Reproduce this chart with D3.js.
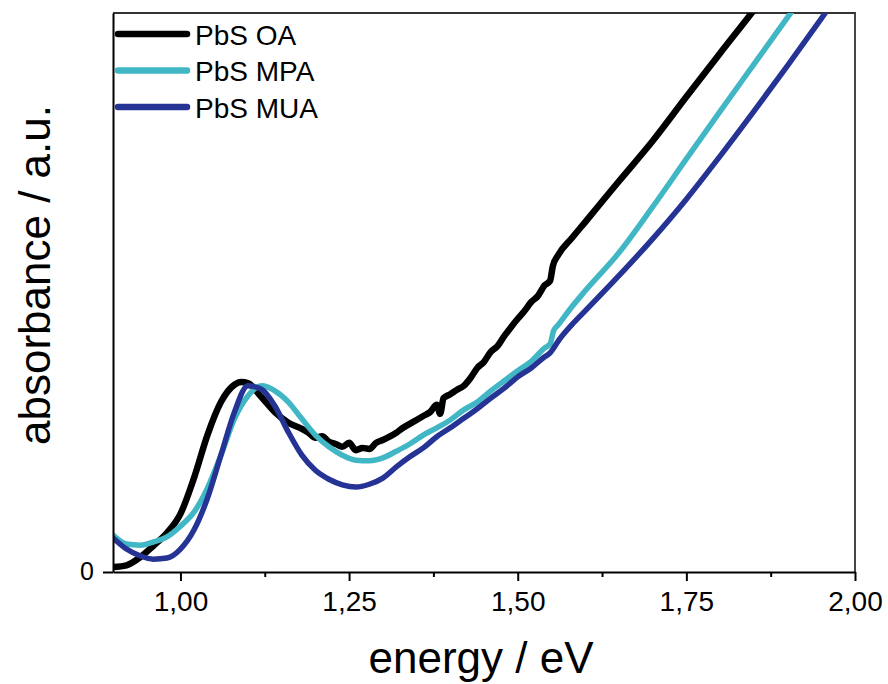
<!DOCTYPE html>
<html lang="en">

<head>
    <meta charset="utf-8">
    <script src="https://d3js.org/d3.v7.min.js"></script>
    <style>
        body { margin: 0; background: #fff; }
        text { font-family: "Liberation Sans", Arial, sans-serif; fill: #000; }
    </style>
</head>

<body>
    <script>
        // series names and colours
        const seriesNames = ["PbS OA", "PbS MPA", "PbS MUA"];
        const seriesColors = ["#000000", "#41b6c4", "#253494"];

        // PbS OA (noisy trace)
        const energyOA = [0.90, 0.92, 0.94, 0.96, 0.98, 1.00, 1.02, 1.04, 1.06, 1.08, 1.09, 1.10, 1.12, 1.14, 1.16,
            1.18, 1.19, 1.20, 1.21, 1.22, 1.23, 1.24, 1.25, 1.26, 1.27, 1.28, 1.29, 1.30, 1.31, 1.32, 1.33, 1.34,
            1.35, 1.36, 1.37, 1.38, 1.385, 1.39, 1.40, 1.41, 1.42, 1.43, 1.44, 1.45, 1.46, 1.47, 1.48, 1.49, 1.50,
            1.51, 1.52, 1.53, 1.54, 1.548, 1.552, 1.56, 1.58, 1.60, 1.65, 1.70, 1.75, 1.80, 1.85, 1.90];
        const absOA = [0.009, 0.012, 0.026, 0.047, 0.070, 0.104, 0.168, 0.245, 0.304, 0.335, 0.340, 0.338, 0.313,
            0.286, 0.267, 0.256, 0.249, 0.240, 0.243, 0.233, 0.229, 0.224, 0.231, 0.218, 0.222, 0.220, 0.231, 0.236,
            0.242, 0.249, 0.258, 0.265, 0.272, 0.279, 0.286, 0.299, 0.283, 0.311, 0.318, 0.326, 0.333, 0.347, 0.365,
            0.376, 0.394, 0.404, 0.422, 0.438, 0.453, 0.467, 0.483, 0.494, 0.513, 0.521, 0.547, 0.567, 0.597, 0.626,
            0.699, 0.771, 0.850, 0.928, 1.005, 1.085];

        // energy grid shared by the two ligand-exchanged samples
        const energyGrid = [0.90, 0.92, 0.94, 0.96, 0.98, 1.00, 1.02, 1.04, 1.06, 1.08, 1.10, 1.12, 1.14, 1.16, 1.18,
            1.20, 1.22, 1.24, 1.26, 1.28, 1.30, 1.32, 1.34, 1.36, 1.38, 1.40, 1.42, 1.44, 1.46, 1.48, 1.50, 1.52,
            1.54, 1.548, 1.553, 1.56, 1.58, 1.60, 1.65, 1.70, 1.75, 1.80, 1.85, 1.90, 1.95, 2.00];
        const absMPA = [0.066, 0.050, 0.048, 0.054, 0.063, 0.082, 0.107, 0.150, 0.209, 0.274, 0.315, 0.333, 0.324,
            0.304, 0.274, 0.245, 0.224, 0.209, 0.200, 0.199, 0.204, 0.216, 0.229, 0.245, 0.258, 0.272, 0.290, 0.304,
            0.324, 0.342, 0.360, 0.377, 0.401, 0.408, 0.431, 0.442, 0.474, 0.503, 0.571, 0.653, 0.739, 0.824, 0.908,
            0.992, 1.076, 1.160];
        const absMUA = [0.061, 0.041, 0.029, 0.023, 0.025, 0.041, 0.075, 0.132, 0.209, 0.286, 0.333, 0.327, 0.297,
            0.250, 0.209, 0.182, 0.166, 0.156, 0.152, 0.157, 0.168, 0.188, 0.206, 0.222, 0.242, 0.258, 0.275, 0.292,
            0.311, 0.329, 0.349, 0.365, 0.385, 0.392, 0.400, 0.413, 0.442, 0.467, 0.530, 0.596, 0.667, 0.744, 0.824,
            0.906, 0.990, 1.076];

        // axis ticks
        const majorTicks = [1.00, 1.25, 1.50, 1.75, 2.00];
        const minorTicks = [1.125, 1.375, 1.625, 1.875];
        const yTicks = [0];

        const width = 888,
            height = 684,
            margin = { top: 13, right: 33, bottom: 112, left: 113 };

        const x = d3.scaleLinear()
            .domain([0.9, 2.0])
            .range([margin.left, width - margin.right]);

        const y = d3.scaleLinear()
            .domain([0, 1])
            .range([height - margin.bottom, margin.top]);

        const svg = d3.select("body")
            .append("svg")
            .attr("width", width)
            .attr("height", height);

        // clip the traces to the plot frame
        svg.append("clipPath")
            .attr("id", "plotclip")
            .append("rect")
            .attr("x", margin.left)
            .attr("y", margin.top)
            .attr("width", width - margin.left - margin.right)
            .attr("height", height - margin.top - margin.bottom);

        // top and right frame lines
        svg.append("path")
            .attr("d", "M" + margin.left + "," + margin.top + "H" + (width - margin.right) + "V" + (height - margin.bottom))
            .attr("fill", "none")
            .attr("stroke", "#333")
            .attr("stroke-width", 1.8);

        const series = [
            { name: seriesNames[0], color: seriesColors[0], xs: energyOA, ys: absOA, width: 6.5 },
            { name: seriesNames[1], color: seriesColors[1], xs: energyGrid, ys: absMPA, width: 5.5 },
            { name: seriesNames[2], color: seriesColors[2], xs: energyGrid, ys: absMUA, width: 5.5 }
        ];

        const line = d3.line()
            .x(d => x(d[0]))
            .y(d => y(d[1]))
            .curve(d3.curveMonotoneX);

        svg.append("g")
            .attr("clip-path", "url(#plotclip)")
            .selectAll("path")
            .data(series)
            .enter()
            .append("path")
            .attr("d", s => line(s.xs.map((e, i) => [e, s.ys[i]])))
            .attr("fill", "none")
            .attr("stroke", s => s.color)
            .attr("stroke-width", s => s.width)
            .attr("stroke-linejoin", "round")
            .attr("stroke-linecap", "round");

        // x axis, comma decimals
        const xAxis = svg.append("g")
            .attr("transform", "translate(0," + (height - margin.bottom) + ")")
            .call(d3.axisBottom(x)
                .tickValues(majorTicks)
                .tickSize(9)
                .tickSizeOuter(0)
                .tickPadding(10)
                .tickFormat(d => d.toFixed(2).replace(".", ",")));

        svg.append("g")
            .attr("transform", "translate(0," + (height - margin.bottom) + ")")
            .call(d3.axisBottom(x)
                .tickValues(minorTicks)
                .tickSize(5)
                .tickSizeOuter(0)
                .tickFormat(""))
            .select(".domain").remove();

        const yAxis = svg.append("g")
            .attr("transform", "translate(" + margin.left + ",0)")
            .call(d3.axisLeft(y)
                .tickValues(yTicks)
                .tickSize(10)
                .tickSizeOuter(0)
                .tickPadding(9)
                .tickFormat(d3.format("d")));

        svg.selectAll(".domain").attr("stroke", "#000").attr("stroke-width", 2);
        svg.selectAll(".tick line").attr("stroke", "#000").attr("stroke-width", 2);
        xAxis.selectAll("text").style("font-size", "28px");
        yAxis.selectAll("text").style("font-size", "25px").attr("dy", "0.28em");

        // axis titles
        svg.append("text")
            .attr("x", 481)
            .attr("y", 673)
            .attr("text-anchor", "middle")
            .style("font-size", "44px")
            .text("energy / eV");

        svg.append("text")
            .attr("transform", "translate(50,275) rotate(-90)")
            .attr("text-anchor", "middle")
            .style("font-size", "44px")
            .text("absorbance / a.u.");

        // legend
        const legend = svg.append("g")
            .selectAll("g")
            .data(series)
            .enter()
            .append("g")
            .attr("transform", (d, i) => "translate(0," + (34 + i * 36.5) + ")");

        legend.append("line")
            .attr("x1", 118)
            .attr("x2", 187)
            .attr("stroke", d => d.color)
            .attr("stroke-width", 6.5)
            .attr("stroke-linecap", "round");

        legend.append("text")
            .attr("x", 195)
            .attr("y", 10.5)
            .style("font-size", "28px")
            .text(d => d.name);
    </script>
</body>

</html>
